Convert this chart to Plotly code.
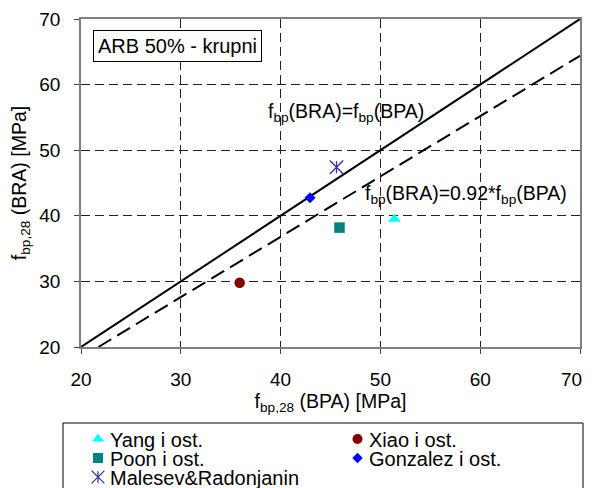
import plotly.graph_objects as go

# ---------------- Data ----------------
series_names = ["Yang i ost.", "Xiao i ost.", "Poon i ost.", "Gonzalez i ost.", "Malesev&Radonjanin"]
series_x = [51.4, 35.9, 45.9, 42.95, 45.6]
series_y = [39.5, 29.8, 38.2, 42.75, 47.4]
series_symbols = ["triangle-up", "circle", "square", "diamond", "x-thin-open"]
series_colors = ["#00FFFF", "#800000", "#008080", "#0000FF", "#333399"]
series_sizes = [11, 10.5, 10.5, 8.5, 13.5]

line1_x = [20, 70]
line1_y = [20, 70]
factor = 0.92
line2_x = [20 / factor, 70]
line2_y = [20, 70 * factor]

axis_ticks = [20, 30, 40, 50, 60, 70]
axis_tick_labels = ["20", "30", "40", "50", "60", "70"]

OFF = 8  # page body margin offset of the rendered figure
W, H = 592 - OFF, 488 - OFF


def fx(p):  # screen px -> paper x
    return (p - OFF) / W


def fy(p):  # screen px -> paper y
    return 1 - (p - OFF) / H


# plot area in screen pixels
PL, PR, PT, PB = 81, 580, 19, 347
LEG_TOP = 423

fig = go.Figure()
fig.add_trace(go.Scatter(x=line1_x, y=line1_y, mode="lines",
                         line=dict(color="black", width=2), showlegend=False, hoverinfo="skip"))
fig.add_trace(go.Scatter(x=line2_x, y=line2_y, mode="lines",
                         line=dict(color="black", width=2, dash="15px,7px"), showlegend=False, hoverinfo="skip"))


def add_marker(xs, ys, s, c, sz, xaxis="x", yaxis="y"):
    if s == "x-thin-open":
        fig.add_trace(go.Scatter(x=xs, y=ys, mode="markers", xaxis=xaxis, yaxis=yaxis,
                                 showlegend=False, hoverinfo="skip", cliponaxis=False,
                                 marker=dict(symbol="x-thin-open", size=sz, color=c,
                                             line=dict(color=c, width=1.3))))
        fig.add_trace(go.Scatter(x=xs, y=ys, mode="markers", xaxis=xaxis, yaxis=yaxis,
                                 showlegend=False, hoverinfo="skip", cliponaxis=False,
                                 marker=dict(symbol="line-ns-open", size=sz * 0.64, color=c,
                                             line=dict(color=c, width=1.3))))
    else:
        fig.add_trace(go.Scatter(x=xs, y=ys, mode="markers", xaxis=xaxis, yaxis=yaxis,
                                 showlegend=False, hoverinfo="skip", cliponaxis=False,
                                 marker=dict(symbol=s, size=sz, color=c, line=dict(width=0))))


for n, x, y, s, c, sz in zip(series_names, series_x, series_y, series_symbols, series_colors, series_sizes):
    add_marker([x], [y], s, c, sz)

# ---------------- Legend (drawn in a pixel-space axis below the plot) ----------------
leg_cols = [98, 357.5]
leg_rows = [439, 458, 477]
leg_text_dx = 9.5
for i, (n, s, c, sz) in enumerate(zip(series_names, series_symbols, series_colors, series_sizes)):
    lx = leg_cols[i % 2]
    ly = leg_rows[i // 2]
    add_marker([lx], [ly], s, c, sz * 0.95, xaxis="x2", yaxis="y2")
    fig.add_annotation(x=lx + leg_text_dx, y=ly + 1, xref="x2", yref="y2", xanchor="left", yanchor="middle",
                       showarrow=False, text=n, font=dict(size=20, color="black"))

fig.add_shape(type="rect", xref="paper", yref="paper",
              x0=fx(63), x1=fx(583), y0=fy(H + OFF + 4), y1=fy(LEG_TOP),
              line=dict(color="black", width=1), fillcolor="rgba(0,0,0,0)", layer="above")

axis_common = dict(
    range=[20, 70], tickvals=axis_ticks, showgrid=True, gridcolor="#222222", griddash="9px,5px", gridwidth=1,
    showline=True, linecolor="#7f7f7f", linewidth=1.5, mirror=True, zeroline=False,
    ticks="outside", ticklen=5, tickcolor="#444444", automargin=False,
    tickfont=dict(family="Liberation Sans, Arial", size=19, color="black"),
    ticklabeloverflow="allow", fixedrange=True,
)

# last x tick label is drawn as an annotation, right-aligned so it stays inside the page
x_tick_text = axis_tick_labels[:-1] + [""]

fig.update_layout(
    width=W, height=H,
    margin=dict(l=0, r=0, t=0, b=0),
    plot_bgcolor="rgba(0,0,0,0)", paper_bgcolor="white",
    font=dict(family="Liberation Sans, Arial", color="black"),
    xaxis=dict(axis_common, ticktext=x_tick_text, domain=[fx(PL), fx(PR)], anchor="y", ticklabelstandoff=9,
               title=dict(text="f<sub>bp,28</sub> (BPA) [MPa]", font=dict(size=19.5), standoff=6)),
    yaxis=dict(axis_common, ticktext=axis_tick_labels, domain=[fy(PB), fy(PT)], anchor="x", ticklabelstandoff=10,
               title=dict(text="f<sub>bp,28</sub> (BRA) [MPa]", font=dict(size=19.5), standoff=8)),
    xaxis2=dict(domain=[0, 1], range=[OFF, W + OFF], visible=False, fixedrange=True, anchor="y2"),
    yaxis2=dict(domain=[0, fy(LEG_TOP)], range=[H + OFF, LEG_TOP], visible=False, fixedrange=True, anchor="x2"),
    showlegend=False,
)

fig.add_annotation(x=fx(584), y=fy(379.5), xref="paper", yref="paper", xanchor="right", yanchor="middle",
                   showarrow=False, text=axis_tick_labels[-1],
                   font=dict(family="Liberation Sans, Arial", size=19, color="black"))

fig.add_annotation(x=46.6, y=55.7, xref="x", yref="y", showarrow=False,
                   text="f<sub>bp</sub>(BRA)=f<sub>bp</sub>(BPA)", font=dict(size=19.5))
fig.add_annotation(x=58.6, y=43.3, xref="x", yref="y", showarrow=False,
                   text="f<sub>bp</sub>(BRA)=0.92*f<sub>bp</sub>(BPA)", font=dict(size=19.5))
fig.add_annotation(x=fx(177), y=fy(45.5), xref="paper", yref="paper",
                   xanchor="center", yanchor="middle", showarrow=False,
                   text="ARB 50% - krupni", font=dict(size=20),
                   bordercolor="black", borderwidth=1, borderpad=4, bgcolor="white")

fig.write_html("out.html")
